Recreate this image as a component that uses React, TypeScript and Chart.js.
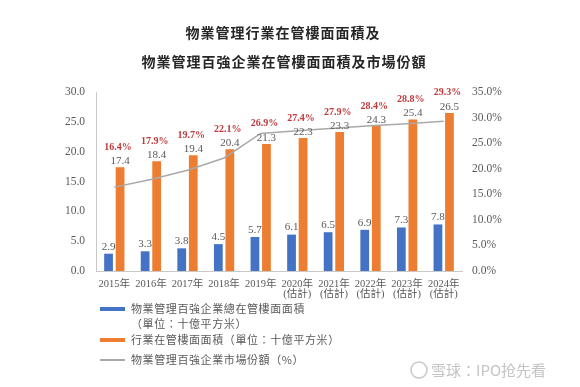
import React, { useEffect, useRef } from "react";
import { Chart, registerables } from "chart.js";

Chart.register(...registerables);

const years = ["2015年", "2016年", "2017年", "2018年", "2019年", "2020年", "2021年", "2022年", "2023年", "2024年"];
const estimated = [false, false, false, false, false, true, true, true, true, true];
const top100Area = [2.9, 3.3, 3.8, 4.5, 5.7, 6.1, 6.5, 6.9, 7.3, 7.8];
const industryArea = [17.4, 18.4, 19.4, 20.4, 21.3, 22.3, 23.3, 24.3, 25.4, 26.5];
const marketShare = [16.4, 17.9, 19.7, 22.1, 26.9, 27.4, 27.9, 28.4, 28.8, 29.3];

const titleLines = ["物業管理行業在管樓面面積及", "物業管理百強企業在管樓面面積及市場份額"];
const legendTop100 = ["物業管理百強企業總在管樓面面積", "（單位：十億平方米）"];
const legendIndustry = "行業在管樓面面積（單位：十億平方米）";
const legendShare = "物業管理百強企業市場份額（%）";
const watermark = "雪球：IPO抢先看";

const BLUE = "#4472C4";
const ORANGE = "#ED7D31";
const GRAY = "#A9A9A9";
const RED = "#C0393B";
const TEXT = "#595959";
const SERIF = "'Liberation Serif', 'Noto Sans CJK TC', serif";
const CJK = "'Noto Sans CJK TC', sans-serif";

const labels = years.map((y, i) => (estimated[i] ? [y, "(估計)"] : y));

const decorPlugin = {
  id: "decor",
  afterDatasetsDraw(chart: any) {
    const ctx = chart.ctx as CanvasRenderingContext2D;
    ctx.save();
    ctx.textAlign = "center";
    ctx.textBaseline = "middle";
    // blue labels
    const m0 = chart.getDatasetMeta(0);
    ctx.fillStyle = TEXT;
    ctx.font = `11px ${SERIF}`;
    m0.data.forEach((bar: any, i: number) => {
      ctx.fillText(top100Area[i].toFixed(1), bar.x, bar.y - 7);
    });
    const m1 = chart.getDatasetMeta(1);
    m1.data.forEach((bar: any, i: number) => {
      ctx.fillStyle = TEXT;
      ctx.font = `11px ${SERIF}`;
      ctx.fillText(industryArea[i].toFixed(1), bar.x, bar.y - 6);
      ctx.fillStyle = RED;
      ctx.font = `bold 10px ${SERIF}`;
      ctx.fillText(marketShare[i].toFixed(1) + "%", bar.x - 2, bar.y - 20);
    });
    ctx.restore();
  },
  afterDraw(chart: any) {
    const ctx = chart.ctx as CanvasRenderingContext2D;
    ctx.save();
    // title
    ctx.fillStyle = "#262626";
    ctx.textAlign = "center";
    ctx.textBaseline = "middle";
    ctx.font = `bold 14px ${CJK}`;
    (ctx as any).letterSpacing = "1px";
    ctx.fillText(titleLines[0], 283, 33);
    ctx.fillText(titleLines[1], 284, 62);
    // legend
    (ctx as any).letterSpacing = "0.6px";
    ctx.textAlign = "left";
    ctx.font = `11px ${CJK}`;
    ctx.fillStyle = BLUE;
    ctx.fillRect(100, 307, 25, 4);
    ctx.fillStyle = TEXT;
    ctx.fillText(legendTop100[0], 131, 309);
    ctx.fillText(legendTop100[1], 131, 324);
    ctx.fillStyle = ORANGE;
    ctx.fillRect(100, 338, 25, 4);
    ctx.fillStyle = TEXT;
    ctx.fillText(legendIndustry, 131, 340);
    ctx.strokeStyle = GRAY;
    ctx.lineWidth = 2;
    ctx.beginPath();
    ctx.moveTo(100, 360);
    ctx.lineTo(125, 360);
    ctx.stroke();
    ctx.fillText(legendShare, 131, 360);
    // watermark
    (ctx as any).letterSpacing = "0px";
    ctx.strokeStyle = "#c8c8c8";
    ctx.lineWidth = 1.5;
    ctx.beginPath();
    ctx.arc(419, 370, 8, 0, Math.PI * 2);
    ctx.stroke();
    ctx.fillStyle = "#c4c4c4";
    ctx.font = `15px ${CJK}`;
    ctx.fillText(watermark, 431, 370);
    ctx.restore();
  },
};

export default function App() {
  const ref = useRef<HTMLCanvasElement | null>(null);
  useEffect(() => {
    document.body.style.margin = "0";
    document.body.style.overflow = "hidden";
    if (!ref.current) return;
    const chart = new Chart(ref.current, {
      type: "bar",
      data: {
        labels,
        datasets: [
          {
            label: legendTop100.join(""),
            data: top100Area,
            backgroundColor: BLUE,
            yAxisID: "y",
            order: 2,
            barPercentage: 0.76,
            categoryPercentage: 0.63,
          },
          {
            label: legendIndustry,
            data: industryArea,
            backgroundColor: ORANGE,
            yAxisID: "y",
            order: 2,
            barPercentage: 0.76,
            categoryPercentage: 0.63,
          },
          {
            type: "line",
            label: legendShare,
            data: marketShare,
            borderColor: GRAY,
            borderWidth: 1.5,
            pointRadius: 0,
            tension: 0,
            yAxisID: "y1",
            order: 1,
          } as any,
        ],
      },
      options: {
        responsive: false,
        animation: false,
        layout: { padding: { left: 56, right: 68, top: 92, bottom: 86 } },
        plugins: { legend: { display: false }, title: { display: false }, tooltip: { enabled: false } },
        scales: {
          x: {
            grid: { display: false, drawTicks: false },
            border: { display: true, color: "#C8C8C8" },
            ticks: {
              color: TEXT,
              font: { family: SERIF, size: 10.5, lineHeight: 0.95 },
              padding: 8,
              autoSkip: false,
              maxRotation: 0,
              minRotation: 0,
            },
            afterFit: (s: any) => {
              s.height = 30;
            },
          },
          y: {
            position: "left",
            min: 0,
            max: 30,
            grid: { display: false, drawTicks: false },
            border: { display: true, color: "#C8C8C8" },
            ticks: {
              stepSize: 5,
              color: TEXT,
              font: { family: SERIF, size: 11.5 },
              padding: 11,
              callback: (v: any) => Number(v).toFixed(1),
            },
            afterFit: (s: any) => {
              s.width = 40;
            },
          },
          y1: {
            position: "right",
            min: 0,
            max: 35,
            grid: { display: false, drawTicks: false },
            border: { display: false },
            ticks: {
              stepSize: 5,
              color: TEXT,
              font: { family: SERIF, size: 11.5 },
              padding: 10,
              callback: (v: any) => Number(v).toFixed(1) + "%",
            },
            afterFit: (s: any) => {
              s.width = 50;
            },
          },
        },
      },
      plugins: [decorPlugin],
    });
    return () => chart.destroy();
  }, []);
  return (
    <div style={{ width: 580, height: 387, background: "#fff" }}>
      <canvas ref={ref} width={580} height={387} style={{ display: "block" }} />
    </div>
  );
}
